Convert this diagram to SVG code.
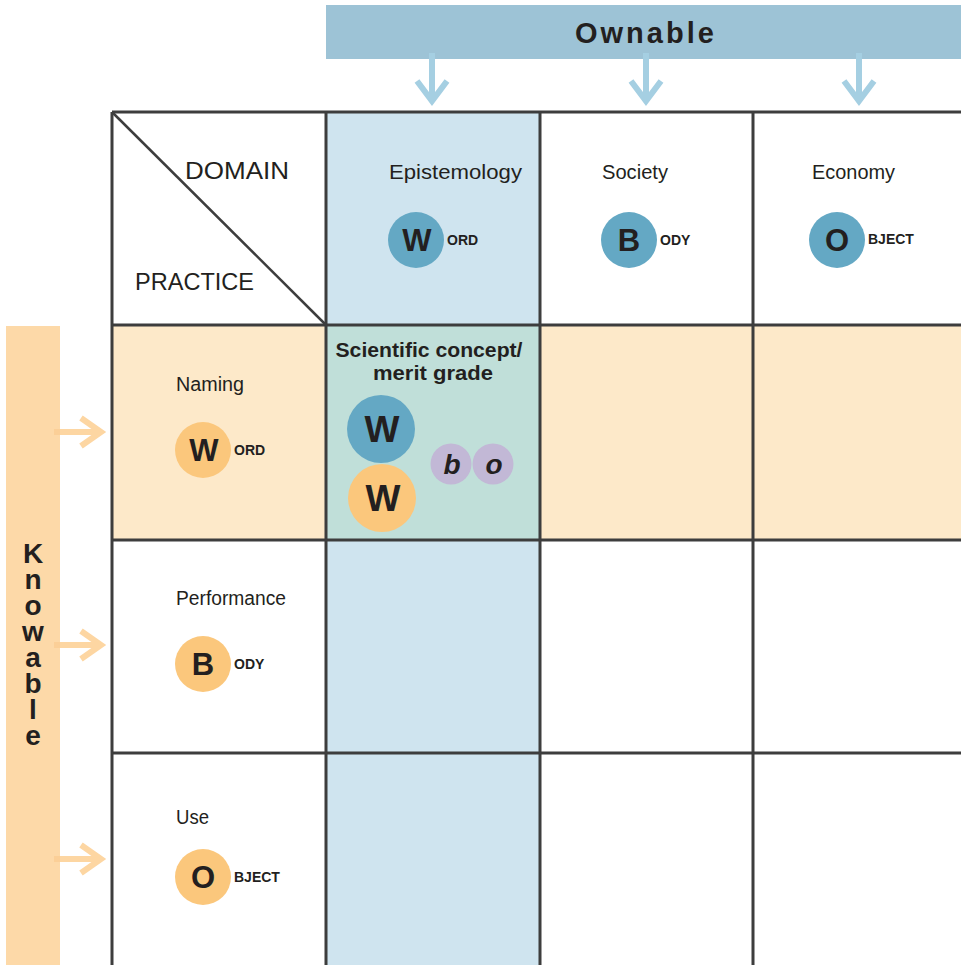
<svg xmlns="http://www.w3.org/2000/svg" width="961" height="965" viewBox="0 0 961 965">
<style>
.lbl{font-family:"Liberation Sans",Arial,sans-serif;font-size:20px;fill:#231f20}
.big{font-family:"Liberation Sans",Arial,sans-serif;font-size:24px;fill:#231f20}
.cl{font-family:"Liberation Sans",Arial,sans-serif;font-size:31px;font-weight:bold;fill:#231f20;text-anchor:middle}
.sm{font-family:"Liberation Sans",Arial,sans-serif;font-size:14px;font-weight:bold;fill:#231f20}
.kn{font-family:"Liberation Sans",Arial,sans-serif;font-size:28px;font-weight:bold;fill:#231f20;writing-mode:vertical-rl;text-orientation:upright;letter-spacing:-5px}
.blue{fill:#64a8c4}
.orange{fill:#fbc77c}
.purple{fill:#c2b8d6}
.grid{stroke:#3d3d3d;stroke-width:3;fill:none}
.darr{stroke:#a5cfe2;stroke-width:6;fill:none}
.rarr{stroke:#fdd6a2;stroke-width:6;fill:none}
</style>
<rect width="961" height="965" fill="#fff"/>
<!-- backgrounds -->
<rect x="326" y="112" width="214" height="853" fill="#cfe4ef"/>
<rect x="112" y="325" width="849" height="215" fill="#fde9c9"/>
<rect x="326" y="325" width="214" height="215" fill="#c0dfd9"/>
<!-- banners -->
<g id="ownable">
<rect x="326" y="5" width="635" height="54" fill="#9dc3d6"/>
<text x="575" y="43" style="font-family:'Liberation Sans',Arial,sans-serif;font-size:29px;font-weight:bold;fill:#231f20;letter-spacing:3px">Ownable</text>
</g>
<g id="knowable">
<rect x="6" y="326" width="54" height="639" fill="#fdd9a8"/>
<text class="kn" x="33" y="538">Knowable</text>
</g>
<!-- connectors -->
<g id="connectors">
<path class="darr" d="M432 53V100M417 81L432 101L447 81"/>
<path class="darr" d="M646 53V100M631 81L646 101L661 81"/>
<path class="darr" d="M859 53V100M844 81L859 101L874 81"/>
<path class="rarr" d="M60 432H100M81 418L101 432L81 446"/>
<path class="rarr" d="M60 645H100M81 631L101 645L81 659"/>
<path class="rarr" d="M60 859H100M81 845L101 859L81 873"/>
<path d="M54 432H60M54 645H60M54 859H60" stroke="#fbcf97" stroke-width="6"/>
</g>
<!-- grid -->
<g id="grid" class="grid">
<path d="M112 112H961M112 325H961M112 540H961M112 753H961"/>
<path d="M112 112V965M326 112V965M540 112V965M753 112V965"/>
<path d="M112 112L326 325" stroke-width="2.5"/>
</g>
<g id="corner">
<text class="big" x="185" y="179" textLength="104" lengthAdjust="spacingAndGlyphs">DOMAIN</text>
<text class="big" x="135" y="290" textLength="119" lengthAdjust="spacingAndGlyphs">PRACTICE</text>
</g>
<g id="epistemology">
<text class="lbl" x="389" y="179" textLength="133" lengthAdjust="spacingAndGlyphs">Epistemology</text>
<circle class="blue" cx="416" cy="240" r="28"/>
<text class="cl" x="417" y="251">W</text>
<text class="sm" x="447" y="245">ORD</text>
</g>
<g id="society">
<text class="lbl" x="602" y="179" textLength="66" lengthAdjust="spacingAndGlyphs">Society</text>
<circle class="blue" cx="629" cy="240" r="28"/>
<text class="cl" x="629" y="251">B</text>
<text class="sm" x="660" y="245">ODY</text>
</g>
<g id="economy">
<text class="lbl" x="812" y="179" textLength="83" lengthAdjust="spacingAndGlyphs">Economy</text>
<circle class="blue" cx="837" cy="240" r="28"/>
<text class="cl" x="837" y="251">O</text>
<text class="sm" x="868" y="244">BJECT</text>
</g>
<g id="naming">
<text class="lbl" x="176" y="391" textLength="68" lengthAdjust="spacingAndGlyphs">Naming</text>
<circle class="orange" cx="203" cy="450" r="28"/>
<text class="cl" x="204" y="461">W</text>
<text class="sm" x="234" y="455">ORD</text>
</g>
<g id="performance">
<text class="lbl" x="176" y="605" textLength="110" lengthAdjust="spacingAndGlyphs">Performance</text>
<circle class="orange" cx="203" cy="664" r="28"/>
<text class="cl" x="203" y="675">B</text>
<text class="sm" x="234" y="669">ODY</text>
</g>
<g id="use">
<text class="lbl" x="176" y="824" textLength="33" lengthAdjust="spacingAndGlyphs">Use</text>
<circle class="orange" cx="203" cy="877" r="28"/>
<text class="cl" x="203" y="888">O</text>
<text class="sm" x="234" y="882">BJECT</text>
</g>
<g id="scientific-concept">
<text x="429" y="357" text-anchor="middle" textLength="187" lengthAdjust="spacingAndGlyphs" style="font-family:'Liberation Sans',Arial,sans-serif;font-size:21px;font-weight:bold;fill:#231f20">Scientific concept/</text>
<text x="433" y="380" text-anchor="middle" textLength="120" lengthAdjust="spacingAndGlyphs" style="font-family:'Liberation Sans',Arial,sans-serif;font-size:21px;font-weight:bold;fill:#231f20">merit grade</text>
<circle class="blue" cx="381" cy="429" r="34"/>
<text class="cl" x="382" y="442" style="font-size:37px">W</text>
<circle class="orange" cx="382" cy="498" r="34"/>
<text class="cl" x="383" y="511" style="font-size:37px">W</text>
<circle class="purple" cx="451" cy="464" r="20.5"/>
<text class="cl" x="452" y="474" style="font-size:28px;font-style:italic">b</text>
<circle class="purple" cx="493" cy="464" r="20.5"/>
<text class="cl" x="494" y="474" style="font-size:28px;font-style:italic">o</text>
</g>
</svg>
